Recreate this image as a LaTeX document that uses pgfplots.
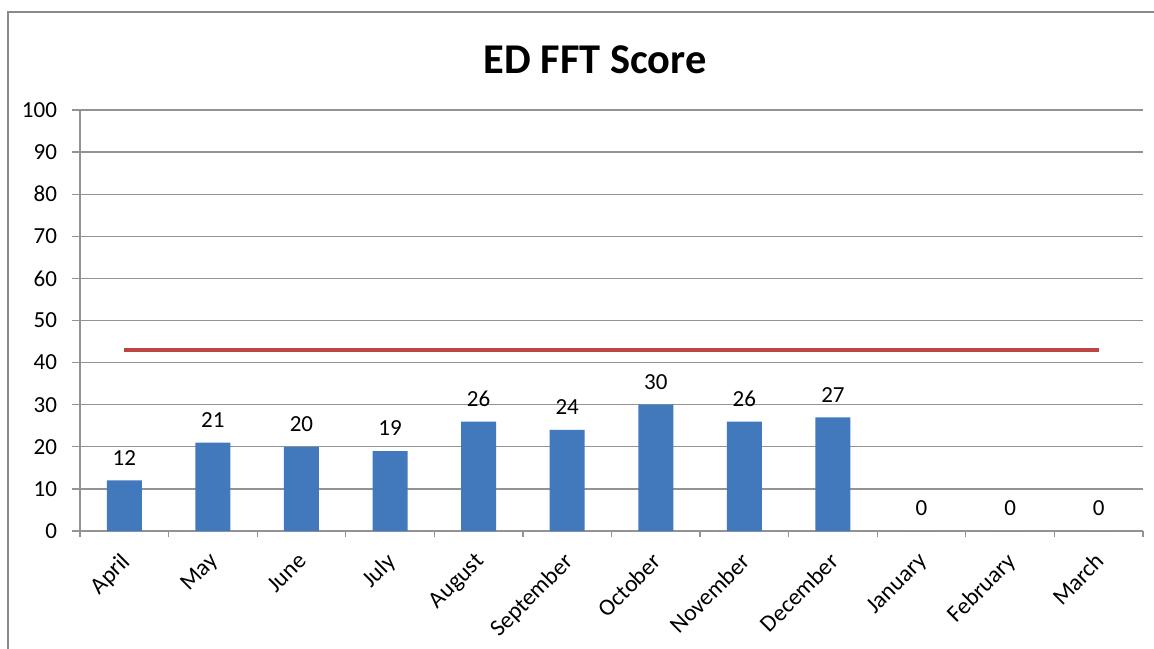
\documentclass[border=0pt]{standalone}
\usepackage{fontspec}
\setmainfont{Carlito}
\usepackage{pgfplots}
\pgfplotsset{compat=1.18}
\definecolor{barblue}{HTML}{4279BD}
\definecolor{targetred}{HTML}{BE4441}
\definecolor{gridgray}{HTML}{939393}
\definecolor{framegray}{HTML}{8A8A8A}
\begin{document}
\begin{tikzpicture}
\useasboundingbox (-40pt,-58.5pt) rectangle (537pt,265.5pt);
\begin{axis}[
  at={(0,0)}, anchor=south west,
  scale only axis,
  width=531.5pt, height=210.5pt,
  xmin=-0.5, xmax=11.5,
  ymin=0, ymax=100,
  ytick={0,10,...,100},
  xtick={0,...,11},
  xticklabels={April,May,June,July,August,September,October,November,December,January,February,March},
  minor xtick={-0.5,0.5,...,11.5},
  axis x line*=bottom,
  axis y line*=left,
  axis line style={gridgray, line width=0.6pt},
  ymajorgrids,
  grid style={gridgray, line width=0.6pt},
  tick style={gridgray, line width=0.6pt},
  major tick length=4pt,
  minor tick length=3pt,
  x tick style={draw=none},
  minor x tick style={draw=gridgray, line width=0.6pt},
  tick align=outside,
  /pgf/number format/assume math mode=true,
  ticklabel style={font=\fontsize{11.5}{13}\selectfont, text=black},
  yticklabel style={xshift=-4pt},
  xticklabel style={font=\fontsize{11.8}{13}\selectfont, xshift=-2.3pt, yshift=-1.3pt, rotate=45, anchor=north east},
  nodes near coords,
  every node near coord/.append style={font=\fontsize{11.5}{13}\selectfont, text=black, yshift=4pt},
  clip=false,
]
\addplot[ybar, bar width=17.5pt, fill=barblue, draw=none] coordinates {
  (0,12) (1,21) (2,20) (3,19) (4,26) (5,24) (6,30) (7,26) (8,27) (9,0) (10,0) (11,0)
};
\addplot[targetred, line width=2pt, mark=none, nodes near coords={}, every node near coord/.style={draw=none}] coordinates {(0,43) (11,43)};
\end{axis}
\node[font=\fontsize{21.2}{25}\selectfont\bfseries] at (257.5pt,235.5pt) {ED FFT Score};
\draw[framegray, line width=1pt] (-36pt,-60pt) -- (-36pt,259.5pt) -- (540pt,259.5pt);
\end{tikzpicture}
\end{document}
